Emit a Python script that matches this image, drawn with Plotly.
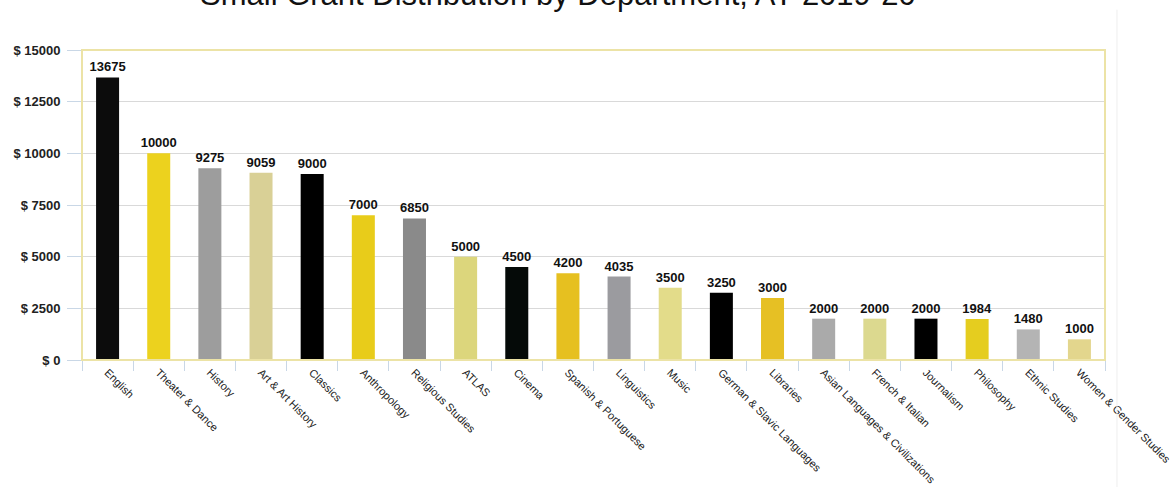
import plotly.graph_objects as go

departments = ["English", "Theater & Dance", "History", "Art & Art History", "Classics",
               "Anthropology", "Religious Studies", "ATLAS", "Cinema", "Spanish & Portuguese",
               "Linguistics", "Music", "German & Slavic Languages", "Libraries",
               "Asian Languages & Civilizations", "French & Italian", "Journalism",
               "Philosophy", "Ethnic Studies", "Women & Gender Studies"]
amounts = [13675, 10000, 9275, 9059, 9000, 7000, 6850, 5000, 4500, 4200,
           4035, 3500, 3250, 3000, 2000, 2000, 2000, 1984, 1480, 1000]
bar_colors = ["#0c0c0c", "#ecd21e", "#9d9d9d", "#d9d096", "#000000",
              "#e8cc1a", "#8a8a8a", "#dcd67c", "#050a08", "#e6c020",
              "#9b9b9f", "#e3dc8a", "#000000", "#e6c024", "#aaaaaa",
              "#dcd98f", "#000000", "#e5cd1f", "#b4b4b4", "#e3d68d"]
y_ticks = [0, 2500, 5000, 7500, 10000, 12500, 15000]
y_tick_labels = ["$ " + str(v) for v in y_ticks]
title_text = "Small Grant Distribution by Department, AY 2019-20"

fig = go.Figure(go.Bar(
    x=departments, y=amounts,
    marker=dict(color=bar_colors, line=dict(width=0)),
    text=[str(v) for v in amounts], textposition="outside",
    constraintext="none",
    textfont=dict(family="Liberation Sans, Arial", size=13, color="#111111", weight="bold"),
    cliponaxis=False,
))

fig.update_layout(
    width=1170, height=487,
    margin=dict(l=82, r=65, t=50, b=127),
    paper_bgcolor="white", plot_bgcolor="white",
    bargap=0.55,
    showlegend=False,
    font=dict(family="Liberation Sans, Arial", color="#222222"),
)

# title, partially cut off at the top edge as in the reference
fig.add_annotation(text=title_text, xref="paper", yref="paper", x=0.465, y=1.178,
                   xanchor="center", yanchor="middle", showarrow=False,
                   font=dict(family="Liberation Sans, Arial", size=31, color="#111111"))

fig.update_yaxes(
    range=[0, 15000], tickvals=y_ticks, ticktext=y_tick_labels,
    showgrid=True, gridcolor="#d9d9d9", gridwidth=1,
    ticks="outside", ticklen=14, tickcolor="#c9d7e6", tickwidth=1,
    tickfont=dict(size=13, color="#222222", weight="bold"),
    zeroline=False, showline=False, ticklabelstandoff=4, automargin=False,
)
fig.update_xaxes(
    tickangle=45, tickson="boundaries", ticks="outside", ticklen=10,
    tickcolor="#c9d7e6", tickwidth=1,
    tickfont=dict(size=11, color="#222222"),
    showline=False, showgrid=False, automargin=False, ticklabelstandoff=3,
)

# plot area border
fig.add_shape(type="rect", xref="x domain", yref="y domain", x0=0, x1=1, y0=0, y1=1,
              line=dict(color="#ece3a6", width=2), layer="above")
# faint vertical divider on the right
fig.add_shape(type="line", xref="paper", yref="paper", x0=1.0117, x1=1.0117, y0=-0.42, y1=1.13,
              line=dict(color="#eeeeee", width=1))

fig.write_html("out.html", config={"displayModeBar": False},
               post_script="document.body.style.margin='0';document.body.style.overflow='hidden';")
